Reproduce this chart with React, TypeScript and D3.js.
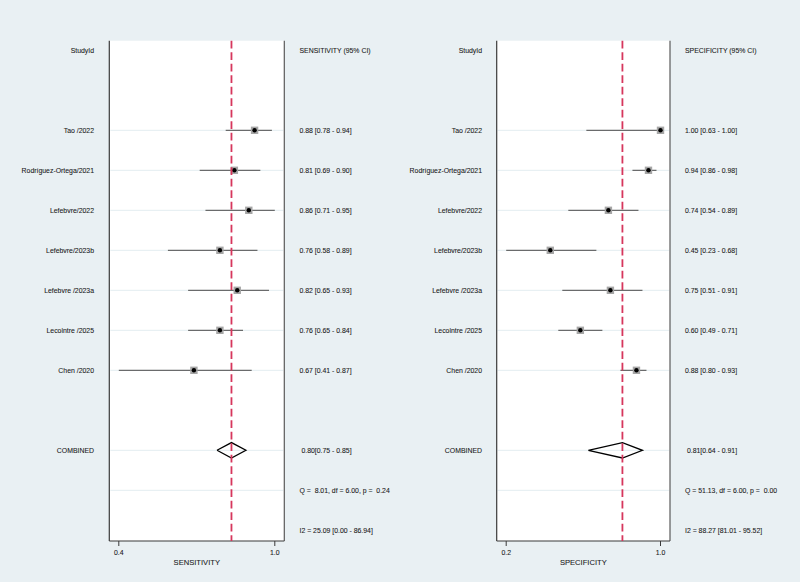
import React from 'react';
import * as d3 from 'd3';

// study rows, top to bottom
const studies = [
  'Tao /2022',
  'Rodríguez-Ortega/2021',
  'Lefebvre/2022',
  'Lefebvre/2023b',
  'Lefebvre /2023a',
  'Lecointre /2025',
  'Chen /2020',
];

const sensEst = [0.88, 0.81, 0.86, 0.76, 0.82, 0.76, 0.67];
const sensLo = [0.78, 0.69, 0.71, 0.58, 0.65, 0.65, 0.41];
const sensHi = [0.94, 0.9, 0.95, 0.89, 0.93, 0.84, 0.87];

const specEst = [1.0, 0.94, 0.74, 0.45, 0.75, 0.6, 0.88];
const specLo = [0.63, 0.86, 0.54, 0.23, 0.51, 0.49, 0.8];
const specHi = [1.0, 0.98, 0.89, 0.68, 0.91, 0.71, 0.93];

// pooled estimate [est, lo, hi]
const sensPooled = [0.8, 0.75, 0.85];
const specPooled = [0.81, 0.64, 0.91];

// heterogeneity: Q, df, p, I2, I2 lo, I2 hi
const sensHet = [8.01, 6.0, 0.24, 25.09, 0.0, 86.94];
const specHet = [51.13, 6.0, 0.0, 88.27, 81.01, 95.52];

const W = 800;
const H = 582;
const FONT = '"Liberation Sans", Arial, sans-serif';
const BG = '#e9f0f3';
const RED = '#d6365c';

const f2 = d3.format('.2f');
// half-up rounding for the axis labels (0.95 -> 1.0)
const f1 = (v: number) => (Math.round(v * 10 + 1e-6) / 10).toFixed(1);
const pad5 = (v: number) => f2(v).padStart(5, ' ');

// row index -> y (0 header, 2..8 studies, 10 combined, 11 Q, 12 I2)
const y = d3.scaleLinear().domain([0, 12]).range([50.3, 530.3]);
const plotTop = 40.7;
const plotBottom = 541;

type PanelProps = {
  frameL: number;
  frameR: number;
  labelX: number;
  textX: number;
  title: string;
  header: string;
  est: number[];
  lo: number[];
  hi: number[];
  pooled: number[];
  het: number[];
};

const Panel = ({ frameL, frameR, labelX, textX, title, header, est, lo, hi, pooled, het }: PanelProps) => {
  const tickVals = [d3.min(lo) as number, d3.max(hi) as number];
  const x = d3.scaleLinear().domain(tickVals).range([frameL + 9.5, frameR - 9.5]);
  const txt = {
    fontFamily: FONT,
    fontSize: 6.9,
    fill: '#1a1a1a',
    stroke: '#1a1a1a',
    strokeWidth: 0.08,
    xmlSpace: 'preserve',
  } as const;
  const gridRows = [...studies.map((_, i) => i + 2), 10, 11];
  const [pe, pl, ph] = pooled;
  const yc = y(10);
  const diamond = d3.line()([
    [x(pl), yc],
    [x(pe), yc - 7.7],
    [x(ph), yc],
    [x(pe), yc + 7.7],
    [x(pl), yc],
  ]) as string;

  return (
    <g>
      <rect x={frameL} y={plotTop} width={frameR - frameL} height={plotBottom - plotTop} fill="#fff" />
      {gridRows.map((r) => (
        <line key={r} x1={frameL + 1} x2={frameR - 1} y1={y(r)} y2={y(r)} stroke="#e3edf0" strokeWidth={1} />
      ))}
      <line x1={frameL} x2={frameL} y1={plotTop} y2={plotBottom} stroke="#3a3a3a" strokeWidth={1.2} />
      <line x1={frameR} x2={frameR} y1={plotTop} y2={plotBottom} stroke="#5a5a5a" strokeWidth={1.2} />
      <line x1={frameL} x2={frameR} y1={plotBottom} y2={plotBottom} stroke="#3a3a3a" strokeWidth={1.2} />

      {/* axis ticks use the min lower and max upper limit */}
      {tickVals.map((t) => (
        <g key={t}>
          <line x1={x(t)} x2={x(t)} y1={plotBottom} y2={plotBottom + 5} stroke="#3a3a3a" strokeWidth={1} />
          <text x={x(t)} y={plotBottom + 14} textAnchor="middle" {...txt}>
            {f1(t)}
          </text>
        </g>
      ))}
      <text x={(frameL + frameR) / 2} y={plotBottom + 23.5} textAnchor="middle" {...txt} fontSize={7.6}>
        {title}
      </text>

      {/* study CIs and point estimates */}
      {studies.map((s, i) => {
        const yy = y(i + 2);
        return (
          <g key={s}>
            <line x1={x(lo[i])} x2={x(hi[i])} y1={yy} y2={yy} stroke="#4a4a4a" strokeWidth={1} />
            <rect x={x(est[i]) - 3.7} y={yy - 3.7} width={7.4} height={7.4} fill="#a6a6a6" />
            <circle cx={x(est[i])} cy={yy} r={2.2} fill="#000" />
          </g>
        );
      })}

      <path d={diamond} fill="none" stroke="#000" strokeWidth={1.3} />

      <line x1={x(pe)} x2={x(pe)} y1={plotTop} y2={plotBottom} stroke={RED} strokeWidth={1.8} strokeDasharray="7.7,3.8" />

      {/* left-hand labels */}
      <text x={labelX} y={y(0)} dy="0.35em" textAnchor="end" {...txt}>
        StudyId
      </text>
      {studies.map((s, i) => (
        <text key={s} x={labelX} y={y(i + 2)} dy="0.35em" textAnchor="end" {...txt}>
          {s}
        </text>
      ))}
      <text x={labelX} y={y(10)} dy="0.35em" textAnchor="end" {...txt}>
        COMBINED
      </text>

      {/* right-hand estimates */}
      <text x={textX} y={y(0)} dy="0.35em" {...txt}>
        {header}
      </text>
      {studies.map((s, i) => (
        <text key={s} x={textX} y={y(i + 2)} dy="0.35em" {...txt}>
          {`${f2(est[i])} [${f2(lo[i])} - ${f2(hi[i])}]`}
        </text>
      ))}
      <text x={textX} y={y(10)} dy="0.35em" {...txt}>
        {` ${f2(pe)}[${f2(pl)} - ${f2(ph)}]`}
      </text>
      <text x={textX} y={y(11)} dy="0.35em" {...txt}>
        {`Q = ${pad5(het[0])}, df = ${f2(het[1])}, p = ${pad5(het[2])}`}
      </text>
      <text x={textX} y={y(12)} dy="0.35em" {...txt}>
        {`I2 = ${f2(het[3])} [${f2(het[4])} - ${f2(het[5])}]`}
      </text>
    </g>
  );
};

export default function App() {
  return (
    <svg width={W} height={H} style={{ position: 'absolute', left: 0, top: 0, display: 'block' }}>
      <rect width={W} height={H} fill={BG} />
      <Panel
        frameL={109.3}
        frameR={284.3}
        labelX={94}
        textX={299.5}
        title="SENSITIVITY"
        header="SENSITIVITY (95% CI)"
        est={sensEst}
        lo={sensLo}
        hi={sensHi}
        pooled={sensPooled}
        het={sensHet}
      />
      <Panel
        frameL={496.7}
        frameR={670}
        labelX={482}
        textX={685}
        title="SPECIFICITY"
        header="SPECIFICITY (95% CI)"
        est={specEst}
        lo={specLo}
        hi={specHi}
        pooled={specPooled}
        het={specHet}
      />
    </svg>
  );
}
